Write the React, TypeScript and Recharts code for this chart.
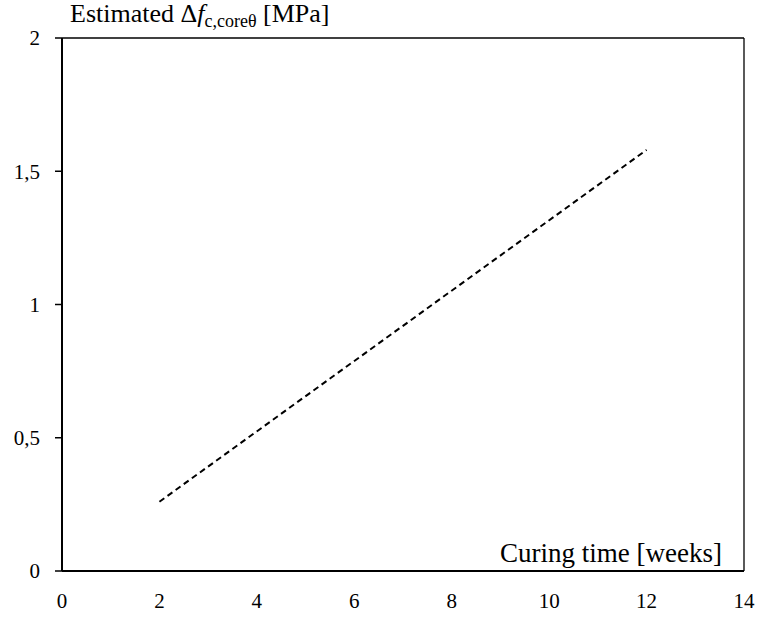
import { Line, LineChart, ReferenceLine, XAxis, YAxis } from 'recharts';

// estimated strength gain vs curing time (dashed trend)
const weeks = [2, 12];
const deltaFc = [0.26, 1.58];
const xTicks = [0, 2, 4, 6, 8, 10, 12, 14];
const yTicks = [0, 0.5, 1, 1.5, 2];

const data = weeks.map((w, i) => ({ w, v: deltaFc[i] }));

const FONT = "'Liberation Serif', serif";
const tickTxt = { fontFamily: FONT, fontSize: 21 };

const fmtComma = (v: number) => String(v).replace('.', ',');

function YTitle(props: any) {
  const vb = props.viewBox || { x: 0, y: 38 };
  return (
    <text x={70} y={vb.y - 16} style={{ fontFamily: FONT, fontSize: 26 }} fill="#000">
      Estimated Δ
      <tspan fontStyle="italic">f</tspan>
      <tspan style={{ fontSize: 18 }} dy={5}>c,coreθ</tspan>
      <tspan dy={-5}> [MPa]</tspan>
    </text>
  );
}

function XTitle() {
  return (
    <text x={722} y={562} textAnchor="end" style={{ fontFamily: FONT, fontSize: 27 }} fill="#000">
      Curing time [weeks]
    </text>
  );
}

export default function App() {
  return (
    <div style={{ position: 'absolute', left: 0, top: 0, background: '#fff' }}>
      <LineChart
        width={757}
        height={619}
        data={data}
        margin={{ top: 38, right: 13, bottom: 0, left: 0 }}
      >
        <XAxis
          dataKey="w"
          type="number"
          domain={[0, 14]}
          ticks={xTicks}
          tickLine={false}
          height={48}
          tickMargin={16}
          axisLine={{ stroke: '#000', strokeWidth: 2 }}
          tick={{ fill: '#000', style: tickTxt }}
          label={<XTitle />}
        />
        <YAxis
          type="number"
          domain={[0, 2]}
          ticks={yTicks}
          width={62}
          tickSize={7}
          tickMargin={15}
          tickFormatter={fmtComma}
          axisLine={{ stroke: '#000', strokeWidth: 2 }}
          tickLine={{ stroke: '#000', strokeWidth: 1.5 }}
          tick={{ fill: '#000', style: tickTxt }}
          label={<YTitle />}
        />
        <ReferenceLine y={2} stroke="#000" strokeWidth={1.3} />
        <ReferenceLine x={14} stroke="#000" strokeWidth={1.3} />
        <Line
          dataKey="v"
          stroke="#000"
          strokeWidth={2}
          strokeDasharray="6 4"
          dot={false}
          isAnimationActive={false}
        />
      </LineChart>
    </div>
  );
}
